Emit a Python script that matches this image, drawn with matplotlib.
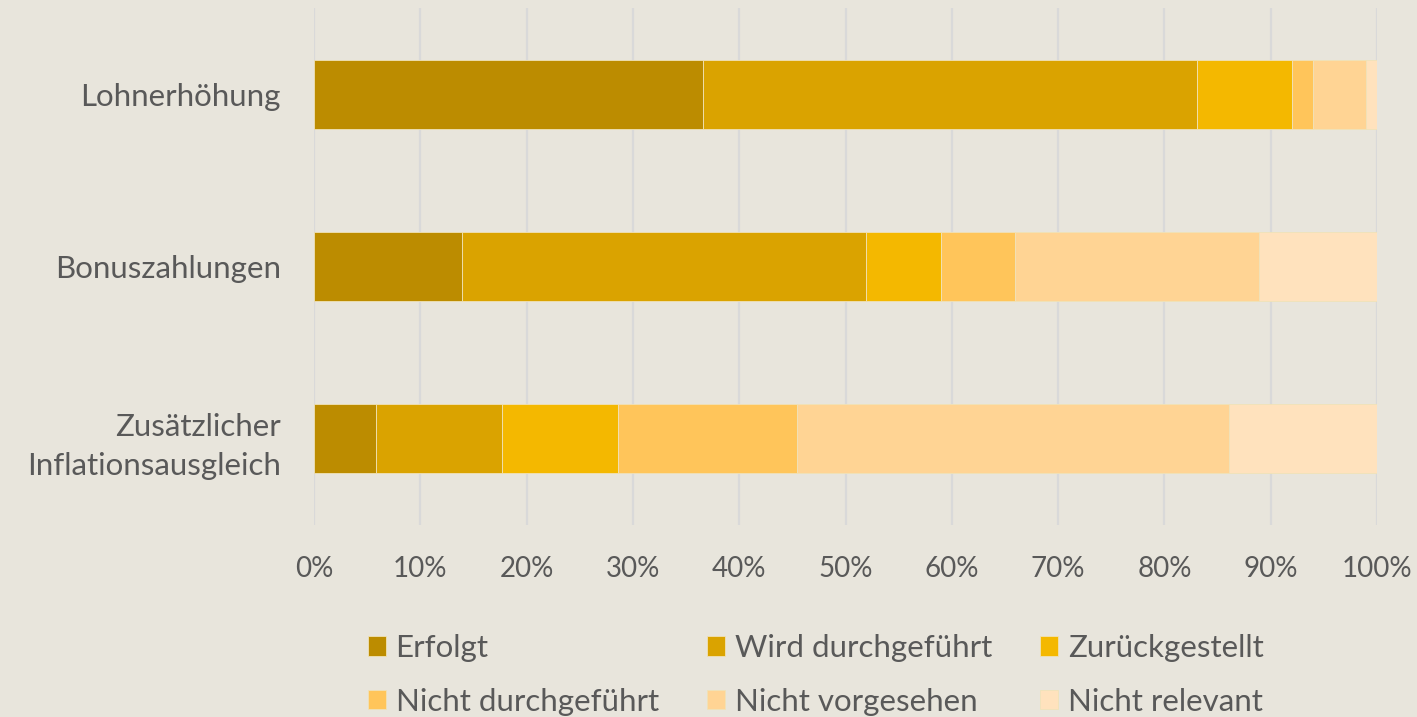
import matplotlib
matplotlib.use("Agg")
import matplotlib.pyplot as plt
import numpy as np

categories = ["Lohnerhöhung", "Bonuszahlungen", "Zusätzlicher\nInflationsausgleich"]
series_names = ["Erfolgt", "Wird durchgeführt", "Zurückgestellt",
                "Nicht durchgeführt", "Nicht vorgesehen", "Nicht relevant"]
erfolgt = [36.6, 13.9, 5.8]
wird_durchgefuehrt = [46.5, 38.0, 11.9]
zurueckgestellt = [8.9, 7.1, 10.9]
nicht_durchgefuehrt = [2.0, 6.9, 16.8]
nicht_vorgesehen = [5.0, 23.0, 40.7]
nicht_relevant = [1.0, 11.1, 13.9]
x_ticks = [0, 10, 20, 30, 40, 50, 60, 70, 80, 90, 100]
x_tick_labels = [f"{t}%" for t in x_ticks]

colors = ["#BC8C00", "#DAA300", "#F4B800", "#FFC55A", "#FFD494", "#FFE2BD"]
bg = "#E8E5DC"
txt = "#595959"

plt.rcParams['font.family'] = ['Lato', 'DejaVu Sans']

fig = plt.figure(figsize=(14.17, 7.17), dpi=100, facecolor=bg)
ax = fig.add_axes([314/1417, 1-525/717, (1377-314)/1417, (525-8)/717], facecolor=bg)

data = [erfolgt, wird_durchgefuehrt, zurueckgestellt, nicht_durchgefuehrt,
        nicht_vorgesehen, nicht_relevant]
y = np.arange(len(categories))
left = np.zeros(len(categories))
handles = []
for name, vals, c in zip(series_names, data, colors):
    vals = np.array(vals)
    h = ax.barh(y, vals, left=left, height=0.4, color=c, label=name,
                edgecolor="#F0E2B8", linewidth=0.6, zorder=3)
    handles.append(h)
    left += vals

ax.set_xlim(0, 100)
ax.set_ylim(2.5, -0.5)
ax.set_yticks(y)
ax.set_yticklabels(categories, fontsize=22.5, color=txt, linespacing=1.45)
ax.set_xticks(x_ticks)
ax.set_xticklabels(x_tick_labels, fontsize=20, color=txt)
ax.tick_params(axis='both', length=0)
ax.tick_params(axis='y', pad=24)
ax.tick_params(axis='x', pad=22)
ax.grid(axis='x', color="#D9D9D9", linewidth=1.6, zorder=0)
for s in ax.spines.values():
    s.set_visible(False)

# legend fills column-wise; reorder so rows read left to right
order = [0, 3, 1, 4, 2, 5]
leg = fig.legend([handles[i] for i in order], [series_names[i] for i in order],
                 ncol=3, loc='upper left',
                 bbox_to_anchor=(368/1417, 1-634/717), frameon=False,
                 fontsize=22.5, handlelength=0.58, handleheight=0.58,
                 handletextpad=0.3, columnspacing=1.55, labelspacing=0.82,
                 borderaxespad=0, borderpad=0)
for t in leg.get_texts():
    t.set_color(txt)

fig.savefig("out.png", dpi=100, facecolor=bg)
